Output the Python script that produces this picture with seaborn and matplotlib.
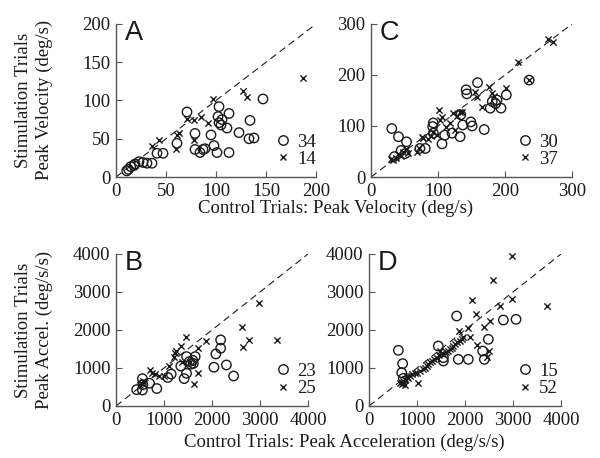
import numpy as np
import pandas as pd
import matplotlib
matplotlib.use("Agg")
import matplotlib.pyplot as plt
import seaborn as sns
from matplotlib.lines import Line2D

# ---------------- data ----------------
# Panel A: peak velocity (deg/s)
a_circ_x = [10.7, 12.5, 14.7, 18, 19, 23, 27, 31, 36, 41, 47, 61, 71, 79, 79, 84, 87,
            95, 98, 101, 103, 102, 103, 105, 106, 111, 113, 113, 123, 133, 134, 138, 147, 89]
a_circ_y = [8, 10, 13.5, 15, 17, 20, 19, 18, 18, 31, 31, 44, 85, 57, 36, 32, 36,
            55, 41, 32, 92, 79, 71, 68, 75, 64, 83, 32, 58, 50, 74, 51, 102, 37]
a_cross_x = [36, 43, 61, 63, 60, 71, 78, 78, 85, 92, 97, 127, 131, 187]
a_cross_y = [41, 49, 55, 58, 36, 76, 74, 48, 79, 71, 102, 113, 104, 130]

# Panel C: peak velocity (deg/s)
c_circ_x = [31, 41, 53, 51, 45, 35, 73, 81, 93, 92, 93, 106, 110, 121, 133, 134, 137,
            142, 143, 159, 149, 151, 169, 178, 181, 186, 188, 194, 202, 236]
c_circ_y = [95, 79, 69, 46, 52, 40, 56, 56, 106, 99, 86, 65, 82, 86, 79, 122, 102,
            171, 163, 185, 108, 100, 93, 135, 148, 144, 151, 135, 161, 190]
c_cross_x = [33, 38, 41, 45, 48, 52, 55, 30, 71, 68, 76, 78, 85, 90, 93, 98, 102, 106, 103,
             123, 128, 133, 136, 118, 125, 155, 158, 166, 176, 183, 180, 201, 220, 264, 271, 236, 112]
c_cross_y = [33, 38, 46, 42, 50, 55, 48, 35, 56, 50, 79, 76, 75, 80, 89, 82, 131, 118, 112,
             125, 120, 128, 128, 105, 92, 167, 157, 138, 177, 159, 165, 174, 226, 270, 264, 190, 98]

# Panel B: peak acceleration (deg/s/s)
b_circ_x = [430, 550, 560, 550, 700, 850, 1080, 1150, 1350, 1420, 1470, 1470, 1530, 1560,
            1600, 1650, 1610, 2040, 2080, 2180, 2180, 2300, 2450]
b_circ_y = [430, 420, 560, 720, 600, 460, 750, 840, 1050, 720, 860, 1300, 1170, 1100,
            1200, 1300, 1120, 1020, 1370, 1520, 1740, 1080, 790]
b_cross_x = [500, 530, 560, 700, 760, 820, 900, 1200, 1220, 1250, 1350, 1380, 1460, 1100,
             1630, 1700, 1700, 1870, 2630, 2640, 2770, 2970, 3350, 1000, 1550]
b_cross_y = [550, 600, 650, 950, 880, 830, 800, 1300, 1400, 1450, 1580, 1170, 1820, 1050,
             570, 860, 1520, 1700, 2070, 1540, 1740, 2700, 1740, 780, 1150]

# Panel D: peak acceleration (deg/s/s)
d_circ_x = [1826, 611, 701, 681, 715, 1444, 1549, 1549, 1861, 2069, 2403, 2368, 2486, 2799, 3063]
d_circ_y = [2368, 1465, 1114, 877, 728, 1579, 1272, 1184, 1228, 1228, 1228, 1447, 1755, 2263, 2281]
d_cross_x = [2972, 2590, 2139, 2972, 2729, 3701, 2229, 2521, 2396, 2069, 1881, 2104, 1931, 2256,
             2506, 1756, 1722, 1028, 1653, 1549, 1479, 1410, 1306, 1236, 1201, 1132, 1062, 958,
             889, 854, 819, 750, 715, 681, 1792, 700, 760, 800, 650, 740, 1350, 1270, 1520,
             1600, 1680, 1830, 1900, 1170, 1450, 1000, 1960, 2450]
d_cross_y = [3947, 3307, 2789, 2824, 2632, 2632, 2412, 2237, 2079, 2044, 1974, 1816, 1755, 1605,
             1447, 1579, 1535, 613, 1447, 1360, 1447, 1272, 1184, 1096, 1053, 965, 921, 877,
             851, 789, 728, 675, 614, 570, 1623, 650, 700, 760, 600, 560, 1230, 1150, 1400,
             1420, 1500, 1680, 1700, 1010, 1330, 880, 1820, 1300]

vel_ticks_a = [0, 50, 100, 150, 200]
vel_ticks_c = [0, 100, 200, 300]
acc_ticks = [0, 1000, 2000, 3000, 4000]

panel_letters = ["A", "B", "C", "D"]
ylabel_vel = "Stimulation Trials\nPeak Velocity (deg/s)"
ylabel_acc = "Stimulation Trials\nPeak Accel. (deg/s/s)"
xlabel_vel = "Control Trials: Peak Velocity (deg/s)"
xlabel_acc = "Control Trials: Peak Acceleration (deg/s/s)"

# ---------------- style ----------------
sns.set_theme(style="ticks")
plt.rcParams['font.family'] = ['Liberation Serif', 'DejaVu Serif']
FS = 13.5
SPINE = "#555555"
INK = "#1a1a1a"

W, H = 600, 458
fig = plt.figure(figsize=(6, 4.58), dpi=100)


def add_ax(l, t, r, b):
    return fig.add_axes([l / W, 1 - b / H, (r - l) / W, (b - t) / H])


def panel(ax, cx, cy, xx, xy, ticks, letter, leg_x, leg_y):
    lim = ticks[-1]
    ax.plot([0, lim], [0, lim], color=INK, lw=0.8, ls=(0, (6.3, 4.0)), zorder=1)
    dfc = pd.DataFrame({"x": cx, "y": cy})
    dfx = pd.DataFrame({"x": xx, "y": xy})
    sns.scatterplot(data=dfc, x="x", y="y", ax=ax, marker="o", s=46,
                    color=INK, facecolor="none", edgecolor=INK, linewidth=1.0,
                    zorder=3, clip_on=False)
    sns.scatterplot(data=dfx, x="x", y="y", ax=ax, marker="x", s=20,
                    color=INK, linewidth=1.0, zorder=3, clip_on=False)
    ax.set_xlim(0, lim)
    ax.set_ylim(0, lim)
    ax.set_xticks(ticks)
    ax.set_yticks(ticks)
    ax.set_xticklabels([str(t) for t in ticks])
    ax.set_yticklabels([str(t) for t in ticks])
    ax.set_xlabel("")
    ax.set_ylabel("")
    for s in ["top", "right"]:
        ax.spines[s].set_visible(False)
    for s in ["left", "bottom"]:
        ax.spines[s].set_color(SPINE)
        ax.spines[s].set_linewidth(1.0)
    ax.tick_params(direction="in", length=4, width=0.8, color=SPINE,
                   labelsize=FS, labelcolor=INK, pad=4)
    ax.text(0.045, 0.895, letter, transform=ax.transAxes, fontsize=19.5,
            family=["Liberation Sans", "DejaVu Sans"], color=INK,
            ha="left", va="baseline")
    handles = [Line2D([], [], ls="", marker="o", ms=6.8, mfc="none", mec=INK, mew=1.0),
               Line2D([], [], ls="", marker="x", ms=4.5, mec=INK, mew=1.0)]
    leg = ax.legend(handles, [str(len(cx)), str(len(xx))], loc="center left",
                    bbox_to_anchor=(leg_x, leg_y), frameon=False, fontsize=FS,
                    handlelength=1.0, handletextpad=0.25, labelspacing=0.0,
                    borderpad=0, borderaxespad=0)
    for t in leg.get_texts():
        t.set_color(INK)


axA = add_ax(116, 24, 316, 177)
axC = add_ax(371, 24, 572, 177)
axB = add_ax(116, 254, 308, 406)
axD = add_ax(369, 254, 561, 406)

panel(axA, a_circ_x, a_circ_y, a_cross_x, a_cross_y, vel_ticks_a, panel_letters[0], 0.788, 0.173)
panel(axB, b_circ_x, b_circ_y, b_cross_x, b_cross_y, acc_ticks, panel_letters[1], 0.819, 0.171)
panel(axC, c_circ_x, c_circ_y, c_cross_x, c_cross_y, vel_ticks_c, panel_letters[2], 0.72, 0.173)
panel(axD, d_circ_x, d_circ_y, d_cross_x, d_cross_y, acc_ticks, panel_letters[3], 0.764, 0.171)

fig.text(34 / W, 1 - 100 / H, ylabel_vel, rotation=90, ha="center", va="center",
         fontsize=FS, color=INK, linespacing=1.25)
fig.text(34 / W, 1 - 330 / H, ylabel_acc, rotation=90, ha="center", va="center",
         fontsize=FS, color=INK, linespacing=1.25)
fig.text(336 / W, 1 - 208 / H, xlabel_vel, ha="center", va="center", fontsize=FS, color=INK)
fig.text(344 / W, 1 - 442 / H, xlabel_acc, ha="center", va="center", fontsize=FS, color=INK)

fig.savefig("out.png", dpi=100, facecolor="white")
